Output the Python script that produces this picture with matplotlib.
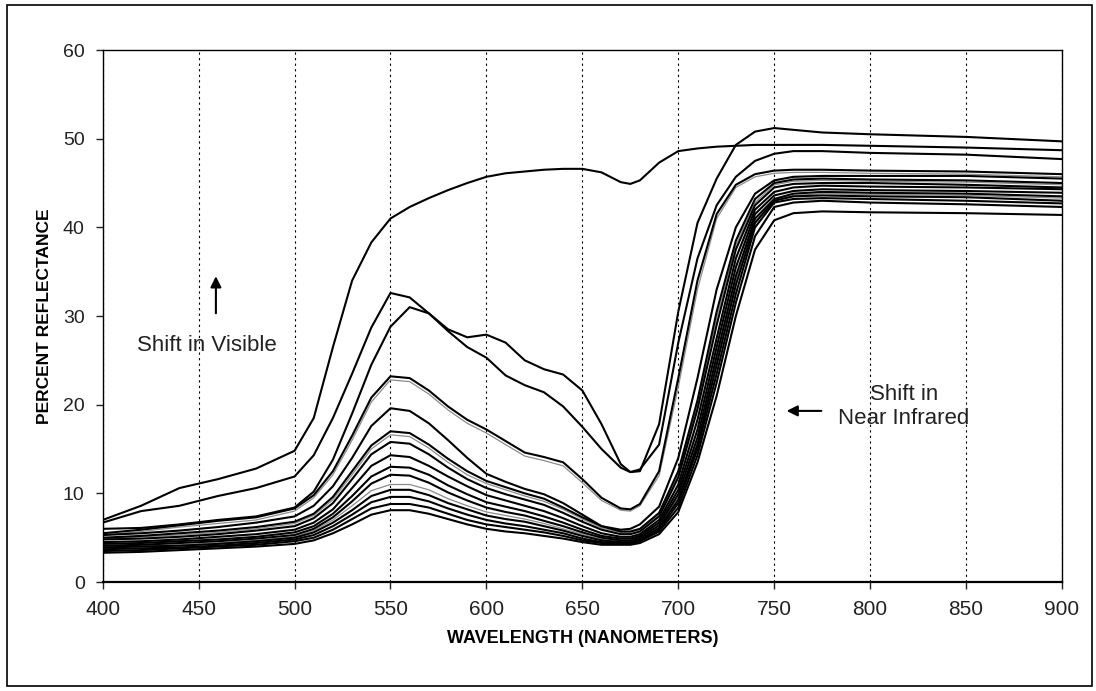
import matplotlib
matplotlib.use("Agg")
import matplotlib.pyplot as plt
from matplotlib.patches import Rectangle

plt.rcParams['font.family'] = ['Liberation Sans', 'DejaVu Sans']

# wavelength grid (nm) shared by every spectrum
wavelength = [400, 420, 440, 460, 480, 500, 510, 520, 530, 540, 550, 560, 570, 580, 590, 600, 610, 620,
              630, 640, 650, 660, 670, 675, 680, 690, 700, 710, 720, 730, 740, 750, 760, 775, 800, 850, 900]

# percent reflectance
curve_a = [7.0, 8.6, 10.6, 11.6, 12.8, 14.8, 18.5, 26.5, 34.0, 38.3, 41.0, 42.3, 43.3, 44.2, 45.0, 45.7, 46.1, 46.3,
           46.5, 46.6, 46.6, 46.2, 45.1, 44.9, 45.3, 47.3, 48.6, 48.9, 49.1, 49.2, 49.3, 49.3, 49.3, 49.3, 49.2, 49.0, 48.7]
curve_b = [6.7, 8.0, 8.6, 9.7, 10.6, 11.9, 14.3, 18.5, 23.5, 28.7, 32.6, 32.1, 30.3, 28.5, 27.6, 27.9, 27.0, 25.0,
           24.0, 23.4, 21.6, 17.8, 13.3, 12.4, 12.5, 17.8, 30.5, 40.5, 45.5, 49.3, 50.8, 51.2, 51.0, 50.7, 50.5, 50.2, 49.7]
curve_c = [6.0, 6.1, 6.5, 7.0, 7.4, 8.4, 10.2, 13.8, 19.0, 24.5, 28.8, 31.0, 30.3, 28.3, 26.5, 25.3, 23.3, 22.2,
           21.4, 19.8, 17.5, 15.0, 12.9, 12.4, 12.7, 15.5, 27.0, 36.5, 42.5, 45.7, 47.5, 48.3, 48.6, 48.6, 48.4, 48.2, 47.7]
curve_d = [5.5, 5.9, 6.4, 6.9, 7.3, 8.3, 9.8, 12.5, 16.5, 20.8, 23.2, 23.0, 21.6, 19.8, 18.3, 17.2, 15.9, 14.6,
           14.1, 13.5, 11.6, 9.5, 8.3, 8.2, 8.8, 12.5, 23.0, 34.0, 41.5, 44.8, 46.0, 46.4, 46.5, 46.5, 46.4, 46.3, 46.0]
curve_e = [5.3, 5.5, 5.8, 6.2, 6.7, 7.4, 8.6, 10.8, 14.0, 17.6, 19.6, 19.3, 17.9, 16.0, 14.0, 12.2, 11.3, 10.5,
           9.9, 8.9, 7.6, 6.3, 5.9, 6.0, 6.5, 8.5, 14.0, 23.0, 33.0, 40.0, 43.8, 45.3, 45.7, 45.8, 45.8, 45.8, 45.5]
curve_f = [5.0, 5.2, 5.5, 5.8, 6.2, 6.8, 7.7, 9.6, 12.5, 15.4, 17.0, 16.8, 15.5, 13.9, 12.5, 11.4, 10.7, 10.0,
           9.4, 8.4, 7.3, 6.3, 5.7, 5.7, 6.0, 7.8, 12.5, 20.5, 30.5, 38.5, 43.2, 45.0, 45.4, 45.5, 45.4, 45.3, 45.0]
curve_g = [4.8, 4.9, 5.1, 5.4, 5.8, 6.3, 7.2, 8.9, 11.6, 14.4, 15.8, 15.6, 14.4, 12.9, 11.6, 10.6, 9.9, 9.3,
           8.7, 7.8, 6.8, 5.9, 5.4, 5.4, 5.7, 7.4, 11.8, 19.5, 29.0, 37.5, 42.5, 44.5, 44.9, 45.0, 45.0, 44.8, 44.5]
curve_h = [4.5, 4.6, 4.8, 5.1, 5.4, 5.9, 6.7, 8.2, 10.6, 13.1, 14.3, 14.1, 13.1, 11.9, 10.8, 9.8, 9.2, 8.6,
           8.0, 7.2, 6.3, 5.5, 5.1, 5.1, 5.4, 7.0, 11.0, 18.3, 27.5, 36.5, 42.0, 44.0, 44.5, 44.7, 44.6, 44.5, 44.3]
curve_i = [4.3, 4.4, 4.6, 4.8, 5.1, 5.6, 6.3, 7.7, 9.7, 11.9, 13.0, 12.9, 12.1, 10.9, 9.9, 9.0, 8.5, 8.0,
           7.4, 6.7, 5.9, 5.2, 4.9, 4.9, 5.2, 6.7, 10.4, 17.2, 26.5, 35.5, 41.5, 43.6, 44.1, 44.3, 44.2, 44.1, 43.9]
curve_j = [4.1, 4.2, 4.4, 4.6, 4.9, 5.3, 6.0, 7.3, 9.1, 11.1, 12.1, 12.0, 11.2, 10.1, 9.2, 8.4, 7.9, 7.5,
           6.9, 6.3, 5.6, 5.0, 4.7, 4.7, 5.0, 6.4, 9.9, 16.3, 25.5, 34.5, 41.0, 43.2, 43.8, 44.0, 43.9, 43.8, 43.5]
curve_k = [3.9, 4.0, 4.1, 4.3, 4.6, 5.0, 5.6, 6.7, 8.1, 9.7, 10.4, 10.4, 9.8, 8.9, 8.2, 7.5, 7.1, 6.8,
           6.3, 5.8, 5.2, 4.7, 4.5, 4.5, 4.8, 6.1, 9.3, 15.5, 24.5, 33.5, 40.5, 43.0, 43.5, 43.6, 43.5, 43.4, 43.0]
curve_l = [3.7, 3.8, 3.9, 4.1, 4.4, 4.8, 5.3, 6.3, 7.6, 9.0, 9.6, 9.6, 9.1, 8.3, 7.6, 7.0, 6.6, 6.3,
           5.9, 5.5, 4.9, 4.5, 4.4, 4.4, 4.7, 5.9, 8.9, 15.0, 23.5, 32.5, 40.0, 42.8, 43.2, 43.3, 43.2, 43.0, 42.7]
curve_m = [3.5, 3.6, 3.8, 4.0, 4.2, 4.6, 5.0, 5.9, 7.1, 8.3, 8.8, 8.8, 8.4, 7.7, 7.0, 6.5, 6.2, 5.9,
           5.6, 5.2, 4.7, 4.4, 4.3, 4.3, 4.6, 5.7, 8.4, 14.3, 22.5, 31.5, 39.0, 42.3, 42.8, 43.0, 42.8, 42.6, 42.3]
curve_n = [3.3, 3.4, 3.6, 3.8, 4.0, 4.3, 4.7, 5.5, 6.5, 7.6, 8.1, 8.1, 7.7, 7.1, 6.5, 6.0, 5.7, 5.5,
           5.2, 4.9, 4.5, 4.2, 4.2, 4.2, 4.4, 5.4, 7.9, 13.5, 21.0, 30.0, 37.5, 40.8, 41.6, 41.8, 41.7, 41.6, 41.4]

# fainter (gray) traces
curve_d2 = [5.3, 5.7, 6.2, 6.6, 7.0, 8.0, 9.5, 12.1, 16.0, 20.3, 22.8, 22.6, 21.2, 19.4, 17.9, 16.8, 15.5, 14.2,
            13.7, 13.1, 11.2, 9.2, 8.1, 8.0, 8.6, 12.0, 22.0, 33.0, 41.0, 44.5, 45.7, 46.1, 46.2, 46.2, 46.1, 46.0, 45.7]
curve_f2 = [4.9, 5.1, 5.3, 5.6, 6.0, 6.6, 7.5, 9.3, 12.1, 15.0, 16.6, 16.4, 15.1, 13.5, 12.1, 11.1, 10.4, 9.7,
            9.1, 8.2, 7.1, 6.1, 5.6, 5.6, 5.9, 7.6, 12.1, 20.0, 29.8, 38.0, 42.8, 44.8, 45.2, 45.3, 45.2, 45.1, 44.8]
curve_k2 = [4.0, 4.1, 4.2, 4.4, 4.7, 5.1, 5.8, 7.0, 8.6, 10.3, 11.0, 11.0, 10.4, 9.4, 8.6, 7.9, 7.5, 7.1,
            6.6, 6.0, 5.4, 4.8, 4.6, 4.6, 4.9, 6.2, 9.6, 15.9, 25.0, 34.0, 40.7, 43.1, 43.6, 43.8, 43.7, 43.6, 43.3]

black_curves = [curve_a, curve_b, curve_c, curve_d, curve_e, curve_f, curve_g,
                curve_h, curve_i, curve_j, curve_k, curve_l, curve_m, curve_n]
gray_curves = [curve_d2, curve_f2, curve_k2]

fig = plt.figure(figsize=(10.96, 6.91), dpi=100)
ax = fig.add_axes([0.0937, 0.1577, 0.8753, 0.7699])

for vals in gray_curves:
    ax.plot(wavelength, vals, color='0.55', lw=0.9)
for vals in black_curves:
    ax.plot(wavelength, vals, color='black', lw=1.5)

ax.set_xlim(400, 900)
ax.set_ylim(0, 60)
ax.set_xticks(range(400, 901, 50))
ax.set_yticks(range(0, 61, 10))
ax.xaxis.grid(True, color='black', lw=0.8, ls=(0, (2, 3)))
ax.set_axisbelow(True)

for side in ['top', 'right', 'left']:
    ax.spines[side].set_linewidth(1.0)
ax.spines['bottom'].set_linewidth(1.6)

ax.tick_params(direction='out', length=5, width=1.0, pad=8, colors='#222222')
plt.setp(ax.get_xticklabels(), fontsize=15)
plt.setp(ax.get_yticklabels(), fontsize=14)

ax.set_xlabel('WAVELENGTH (NANOMETERS)', fontsize=13, fontweight='bold', labelpad=8)
ax.set_ylabel('PERCENT REFLECTANCE', fontsize=12.5, fontweight='bold', labelpad=8)

# annotations
ax.annotate('', xy=(459, 34.8), xytext=(459, 30.0),
            arrowprops=dict(arrowstyle='-|>', color='black', lw=1.5, mutation_scale=16))
ax.text(418, 26.7, 'Shift in Visible', fontsize=16, color='#222222', ha='left', va='center')
ax.annotate('', xy=(755, 19.3), xytext=(776, 19.3),
            arrowprops=dict(arrowstyle='-|>', color='black', lw=1.5, mutation_scale=16))
ax.text(817.6, 19.8, 'Shift in\nNear Infrared', fontsize=16, color='#222222',
        ha='center', va='center', multialignment='center', linespacing=1.15)

fig.patches.append(Rectangle((0.0064, 0.007), 0.99, 0.9855, transform=fig.transFigure,
                             fill=False, lw=1.2, ec='black'))

fig.savefig('out.png', dpi=100)
